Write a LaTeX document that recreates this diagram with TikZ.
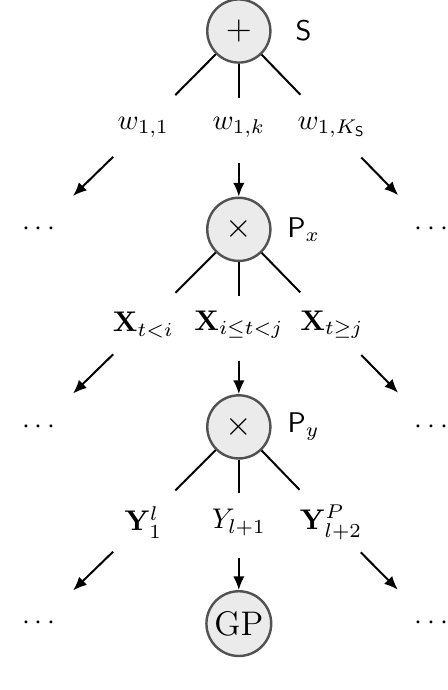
\documentclass[tikz,border=0pt]{standalone}
\usetikzlibrary{arrows.meta}
\begin{document}
\begin{tikzpicture}[
        noeud/.style={circle, draw=black!68, fill=black!8, line width=0.85pt, minimum size=0.78cm, inner sep=1pt, font=\large},
        branche/.style={line width=0.7pt},
        fleche/.style={line width=0.7pt, -{Latex[length=4.8pt,width=4pt]}},
        obl/.style={shorten >=0.56cm},
        oblfleche/.style={shorten <=0.52cm, shorten >=0.59cm},
        vert/.style={shorten >=0.36cm},
        vertfleche/.style={shorten <=0.44cm}
    ]
        \useasboundingbox (-2.95,0.383) rectangle (2.58,-8.14);

        % Noeud somme S
        \node[noeud] (S) at (0,0) {$+$};
        \node (Slab) at ([xshift=0.8cm]S.center) {$\mathsf{S}$};

        % Poids de la somme
        \node (w11) at (-1.18,-1.19) {$w_{1,1}$};
        \node (w1k) at (0,-1.19) {$w_{1,k}$};
        \node (w1K) at (1.15,-1.19) {$w_{1,K_{\mathsf{S}}}$};
        \draw[branche, obl] (S) -- (w11.center);
        \draw[branche, vert] (S) -- (w1k.center);
        \draw[branche, obl] (S) -- (w1K.center);

        % Noeud produit P_x
        \node[noeud] (Px) at (0,-2.45) {$\times$};
        \node (Pxlab) at ([xshift=0.8cm]Px.center) {$\mathsf{P}_x$};
        \node (dg1) at (-2.47,-2.45) {$\cdots$};
        \node (dd1) at (2.38,-2.45) {$\cdots$};
        \draw[fleche, oblfleche] (w11.center) -- (dg1.center);
        \draw[fleche, vertfleche] (w1k.center) -- (Px);
        \draw[fleche, oblfleche] (w1K.center) -- (dd1.center);

        % Decoupage en entree
        \node (Xa) at (-1.18,-3.63) {$\mathbf{X}_{t<i}$};
        \node (Xb) at (0,-3.63) {$\mathbf{X}_{i\leq t<j}$};
        \node (Xc) at (1.15,-3.63) {$\mathbf{X}_{t\geq j}$};
        \draw[branche, obl] (Px) -- (Xa.center);
        \draw[branche, vert] (Px) -- (Xb.center);
        \draw[branche, obl] (Px) -- (Xc.center);

        % Noeud produit P_y
        \node[noeud] (Py) at (0,-4.89) {$\times$};
        \node (Pylab) at ([xshift=0.8cm]Py.center) {$\mathsf{P}_y$};
        \node (dg2) at (-2.47,-4.89) {$\cdots$};
        \node (dd2) at (2.38,-4.89) {$\cdots$};
        \draw[fleche, oblfleche] (Xa.center) -- (dg2.center);
        \draw[fleche, vertfleche] (Xb.center) -- (Py);
        \draw[fleche, oblfleche] (Xc.center) -- (dd2.center);

        % Decoupage en sortie
        \node (Ya) at (-1.18,-6.07) {$\mathbf{Y}_1^l$};
        \node (Yb) at (0,-6.07) {$Y_{l+1}$};
        \node (Yc) at (1.14,-6.07) {$\mathbf{Y}^P_{l+2}$};
        \draw[branche, obl] (Py) -- (Ya.center);
        \draw[branche, vert] (Py) -- (Yb.center);
        \draw[branche, obl] (Py) -- (Yc.center);

        % Feuille GP
        \node[noeud, minimum size=0.8cm] (GP) at (0,-7.32) {GP};
        \node (dg3) at (-2.47,-7.32) {$\cdots$};
        \node (dd3) at (2.38,-7.32) {$\cdots$};
        \draw[fleche, oblfleche] (Ya.center) -- (dg3.center);
        \draw[fleche, vertfleche] (Yb.center) -- (GP);
        \draw[fleche, oblfleche] (Yc.center) -- (dd3.center);

    \end{tikzpicture}
\end{document}
